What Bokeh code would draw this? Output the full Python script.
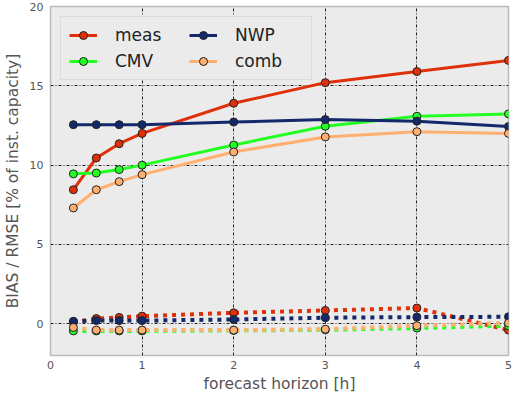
from bokeh.plotting import figure
from bokeh.models import Legend, LegendItem, FixedTicker
from bokeh.embed import file_html
from bokeh.resources import INLINE

horizon = [0.25, 0.5, 0.75, 1, 2, 3, 4, 5]
meas_rmse = [8.45, 10.45, 11.35, 12.0, 13.9, 15.2, 15.9, 16.6]
cmv_rmse = [9.45, 9.5, 9.72, 10.0, 11.27, 12.45, 13.08, 13.23]
nwp_rmse = [12.55, 12.55, 12.55, 12.55, 12.72, 12.87, 12.77, 12.43]
comb_rmse = [7.3, 8.45, 8.96, 9.4, 10.83, 11.78, 12.11, 12.0]
meas_bias = [0.1, 0.33, 0.4, 0.48, 0.69, 0.84, 0.99, -0.4]
cmv_bias = [-0.45, -0.45, -0.45, -0.45, -0.42, -0.38, -0.27, -0.12]
nwp_bias = [0.16, 0.2, 0.2, 0.2, 0.27, 0.38, 0.42, 0.44]
comb_bias = [-0.23, -0.4, -0.4, -0.4, -0.4, -0.34, -0.12, 0.05]

names = ["meas", "CMV", "NWP", "comb"]
colors = ["#e0300a", "#22ff22", "#13296b", "#ffb070"]
rmse = [meas_rmse, cmv_rmse, nwp_rmse, comb_rmse]
bias = [meas_bias, cmv_bias, nwp_bias, comb_bias]

p = figure(frame_width=458, frame_height=349, x_range=(0, 5), y_range=(-2, 20),
           output_backend="svg", toolbar_location=None,
           background_fill_color="#ebebeb", border_fill_color="white",
           min_border_top=6, min_border_right=4, min_border_left=0, min_border_bottom=0)
p.outline_line_color = "#bbbbbb"
p.outline_line_width = 1.5

for ax in (p.xaxis[0], p.yaxis[0]):
    ax.axis_line_color = None
    ax.major_tick_line_color = None
    ax.minor_tick_line_color = None
    ax.major_tick_out = 0
    ax.major_tick_in = 0
    ax.minor_tick_out = 0
    ax.major_label_text_color = "#555555"
    ax.major_label_text_font = "DejaVu Sans"
    ax.major_label_text_font_size = "11px"
    ax.axis_label_text_color = "#555555"
    ax.axis_label_text_font = "DejaVu Sans"
    ax.axis_label_text_font_size = "15.5px"
    ax.axis_label_text_font_style = "normal"
p.xaxis.ticker = FixedTicker(ticks=[0, 1, 2, 3, 4, 5])
p.yaxis.ticker = FixedTicker(ticks=[0, 5, 10, 15, 20])
p.xaxis.axis_label = "forecast horizon [h]"
p.yaxis.axis_label = "BIAS / RMSE [% of inst. capacity]"
p.xaxis.major_label_standoff = 5
p.yaxis.major_label_standoff = 7
p.xaxis.axis_label_standoff = 3
p.yaxis.axis_label_standoff = 5

for g in (p.xgrid, p.ygrid):
    g.grid_line_color = "black"
    g.grid_line_dash = "3 2 1 2"
    g.grid_line_width = 1
    g.grid_line_alpha = 0.85

items = []
for name, c, r, b in zip(names, colors, rmse, bias):
    p.line(horizon, b, line_color=c, line_width=4, line_dash="4 5")
    p.scatter(horizon, b, size=8, fill_color=c, line_color="#222222", line_width=1)
for name, c, r, b in zip(names, colors, rmse, bias):
    ln = p.line(horizon, r, line_color=c, line_width=3)
    sc = p.scatter(horizon, r, size=8, fill_color=c, line_color="#222222", line_width=1)
    items.append(LegendItem(label=name, renderers=[ln, sc]))

legend = Legend(items=items, ncols=2, location="top_left",
                label_text_font="DejaVu Sans", label_text_font_size="17px",
                label_text_color="#222222",
                glyph_width=28, glyph_height=20, label_standoff=18,
                label_width=68, label_height=20,
                spacing=6, padding=8, margin=10,
                background_fill_color="#ebebeb", background_fill_alpha=1,
                border_line_color="#cccccc", border_line_width=1.5)
p.add_layout(legend)

open("out.html", "w").write(file_html(p, INLINE))
